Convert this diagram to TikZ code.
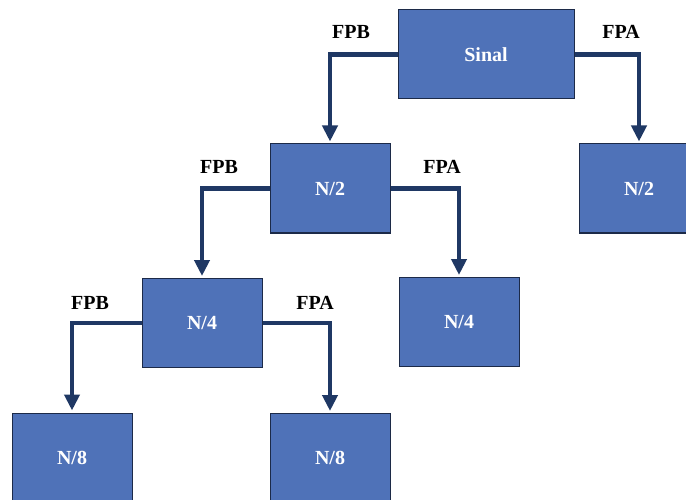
\documentclass[tikz,border=0pt]{standalone}
\usepackage{fontspec}
\setmainfont{Liberation Serif}
\usetikzlibrary{arrows.meta}
\definecolor{boxfill}{RGB}{79,114,184}
\definecolor{boxline}{RGB}{28,42,72}
\definecolor{linkfill}{RGB}{31,56,100}
\begin{document}
\begin{tikzpicture}[x=1pt,y=-1pt]
    % frame of the picture
    \clip (0,0) rectangle (686,500);
    % size of each block
    \def\bw{120pt}
    \def\bh{89pt}
    % style definitions
    \tikzstyle{block} = [
    	draw=boxline, line width=1pt, fill=boxfill, rectangle,
    	minimum width=\bw, minimum height=\bh,
    	text=white, font=\bfseries\fontsize{20}{24}\selectfont ];
    \tikzstyle{link} = [
    	draw=linkfill, line width=4.5pt,
    	-{Triangle[width=15pt,length=16pt]}, shorten >=2pt ];
    \tikzstyle{tag} = [font=\bfseries\fontsize{20}{24}\selectfont];
    % blocks of the tree
    \node[block, minimum width=176pt] (sinal) at (486,54.5) { Sinal };
    \foreach \name/\x/\y/\txt in {n2l/330/188.5/N\slash 2, n2r/639/188.5/N\slash 2,
    	n4l/202/323/N\slash 4, n4r/459/322/N\slash 4,
    	n8l/72/457.5/N\slash 8, n8r/330/458/N\slash 8}
    {
    	\node[block] (\name) at (\x,\y) { \txt };
    }
    % connectors, low pass to the left and high pass to the right
    \foreach \a/\b/\c in {sinal/n2l/n2r, n2l/n4l/n4r, n4l/n8l/n8r}
    {
    	\draw[link] (\a.west) -| (\b.north);
    	\draw[link] (\a.east) -| (\c.north);
    }
    % filter labels
    \foreach \name/\x/\y/\txt in {fpb1/351/32/FPB, fpa1/621/32/FPA,
    	fpb2/219/167/FPB, fpa2/442/167/FPA,
    	fpb3/90/303/FPB, fpa3/315/303/FPA}
    {
    	\node[tag] (\name) at (\x,\y) { \txt };
    }
\end{tikzpicture}
\end{document}
